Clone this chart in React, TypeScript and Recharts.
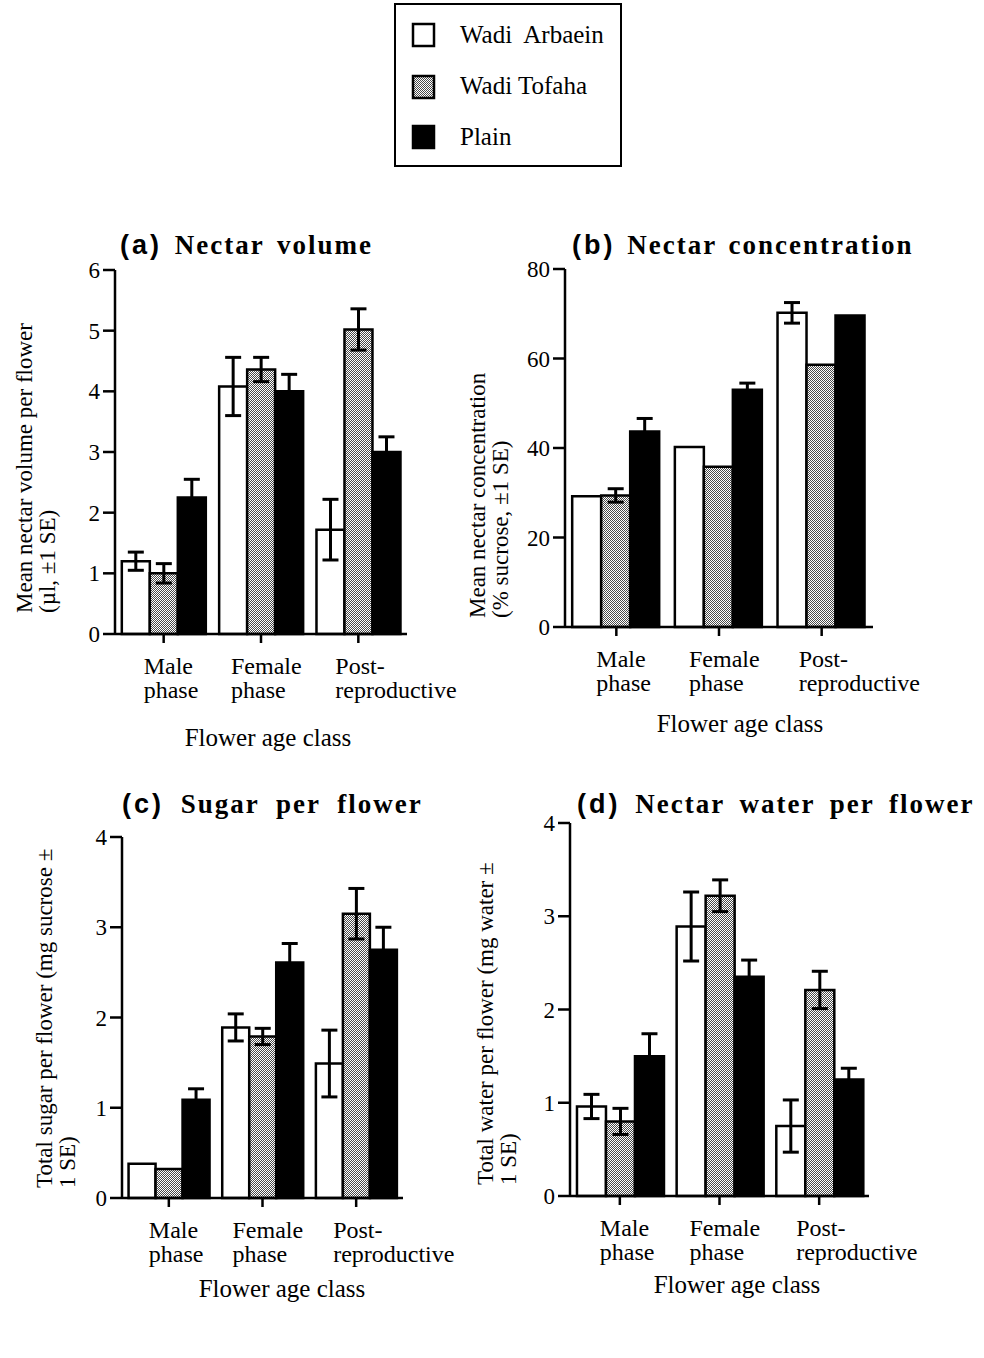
import React from "react";
import { BarChart, Bar, XAxis, YAxis, ErrorBar } from "recharts";

const FONT_SERIF = '"Liberation Serif", "Times New Roman", serif';
const FONT_SANS = '"Liberation Sans", Arial, sans-serif';

// flower age classes (x axis)
const categories = ["Male phase", "Female phase", "Post-reproductive"];
const categoryLines = [
  ["Male", "phase"],
  ["Female", "phase"],
  ["Post-", "reproductive"],
];

// (a) nectar volume, µl
const volumeArbaein = [1.2, 4.08, 1.72];
const volumeArbaeinSE = [0.15, 0.48, 0.5];
const volumeTofaha = [1.0, 4.36, 5.02];
const volumeTofahaSE = [0.16, 0.2, 0.34];
const volumePlain = [2.25, 4.0, 3.0];
const volumePlainSE = [0.3, 0.28, 0.25];

// (b) nectar concentration, % sucrose
const concArbaein = [29.2, 40.2, 70.2];
const concArbaeinSE = [0, 0, 2.3];
const concTofaha = [29.4, 35.8, 58.6];
const concTofahaSE = [1.5, 0, 0];
const concPlain = [43.7, 53.0, 69.6];
const concPlainSE = [2.9, 1.5, 0];

// (c) sugar per flower, mg sucrose
const sugarArbaein = [0.38, 1.89, 1.49];
const sugarArbaeinSE = [0, 0.15, 0.37];
const sugarTofaha = [0.32, 1.79, 3.15];
const sugarTofahaSE = [0, 0.09, 0.28];
const sugarPlain = [1.09, 2.61, 2.75];
const sugarPlainSE = [0.12, 0.21, 0.25];

// (d) nectar water per flower, mg water
const waterArbaein = [0.96, 2.89, 0.75];
const waterArbaeinSE = [0.13, 0.37, 0.28];
const waterTofaha = [0.8, 3.22, 2.21];
const waterTofahaSE = [0.14, 0.17, 0.2];
const waterPlain = [1.5, 2.35, 1.25];
const waterPlainSE = [0.24, 0.18, 0.12];

const volumeTicks = [0, 1, 2, 3, 4, 5, 6];
const concTicks = [0, 20, 40, 60, 80];
const massTicks = [0, 1, 2, 3, 4];

function buildRows(a: number[], aSE: number[], t: number[], tSE: number[], p: number[], pSE: number[]) {
  return categories.map((category, i) => ({
    category,
    arbaein: a[i],
    arbaeinSE: aSE[i],
    tofaha: t[i],
    tofahaSE: tSE[i],
    plain: p[i],
    plainSE: pSE[i],
  }));
}

const labelShift = [-20, -30, -23];

function CategoryTick(props: any) {
  const { x, y, payload } = props;
  const i = payload.index;
  const lines = categoryLines[i];
  const tx = x + labelShift[i];
  return (
    <text x={tx} y={y} fontFamily={FONT_SERIF} fontSize={24} fill="#000" textAnchor="start">
      <tspan x={tx} dy={29}>{lines[0]}</tspan>
      <tspan x={tx} dy={24}>{lines[1]}</tspan>
    </text>
  );
}

type Box = { left: number; right: number; top: number; bottom: number };

function Panel({ rows, box, yTicks, patternId }: { rows: any[]; box: Box; yTicks: number[]; patternId: string }) {
  const ML = 15, YW = 60, MT = 15, MR = 70, XH = 80, MB = 10;
  const left = box.left - ML - YW;
  const top = box.top - MT;
  const width = box.right + MR - left;
  const height = box.bottom + XH + MB - top;
  const line = { stroke: "#000", strokeWidth: 2.5 };
  return (
    <div style={{ position: "absolute", left, top, width, height }}>
      <BarChart
        width={width}
        height={height}
        data={rows}
        margin={{ top: MT, right: MR, bottom: MB, left: ML }}
        barCategoryGap="7%"
        barGap={0}
      >
        <defs>
          <pattern id={patternId} width={2} height={2} patternUnits="userSpaceOnUse">
            <rect width={2} height={2} fill="#fff" />
            <rect width={1} height={1} fill="#4a4a4a" />
            <rect x={1} y={1} width={1} height={1} fill="#4a4a4a" />
          </pattern>
        </defs>
        <XAxis
          dataKey="category"
          height={XH}
          interval={0}
          tickSize={9}
          tickMargin={2}
          axisLine={line}
          tickLine={line}
          tick={(p: any) => <CategoryTick {...p} />}
        />
        <YAxis
          type="number"
          width={YW}
          domain={[0, yTicks[yTicks.length - 1]]}
          ticks={yTicks}
          interval={0}
          tickSize={12}
          tickMargin={3}
          axisLine={line}
          tickLine={line}
          tick={{ fill: "#000", fontSize: 23, fontFamily: FONT_SERIF }}
        />
        <Bar dataKey="arbaein" fill="#fff" stroke="#000" strokeWidth={2.5} isAnimationActive={false}>
          <ErrorBar dataKey="arbaeinSE" direction="y" width={8} stroke="#000" strokeWidth={3} isAnimationActive={false} />
        </Bar>
        <Bar dataKey="tofaha" fill={`url(#${patternId})`} stroke="#000" strokeWidth={2.5} isAnimationActive={false}>
          <ErrorBar dataKey="tofahaSE" direction="y" width={8} stroke="#000" strokeWidth={3} isAnimationActive={false} />
        </Bar>
        <Bar dataKey="plain" fill="#000" stroke="#000" strokeWidth={2.5} isAnimationActive={false}>
          <ErrorBar dataKey="plainSE" direction="y" width={8} stroke="#000" strokeWidth={3} isAnimationActive={false} />
        </Bar>
      </BarChart>
    </div>
  );
}

function Title({ x, y, tag, text, gap }: { x: number; y: number; tag: string; text: string; gap: number }) {
  return (
    <text x={x} y={y} fill="#000" xmlSpace="preserve">
      <tspan fontFamily={FONT_SANS} fontWeight="bold" fontSize={27} letterSpacing={3}>{tag}</tspan>
      <tspan fontFamily={FONT_SERIF} fontWeight="bold" fontSize={27} letterSpacing={2} wordSpacing={gap}>{" " + text}</tspan>
    </text>
  );
}

function YLabel({ x, y, lines }: { x: number; y: number; lines: string[] }) {
  return (
    <text transform={`translate(${x},${y}) rotate(-90)`} fontFamily={FONT_SERIF} fontSize={23} fill="#000" textAnchor="start">
      {lines.map((l, i) => (
        <tspan key={i} x={0} y={i * 23}>{l}</tspan>
      ))}
    </text>
  );
}

function XLabel({ x, y }: { x: number; y: number }) {
  return (
    <text x={x} y={y} fontFamily={FONT_SERIF} fontSize={25} fill="#000" textAnchor="middle">
      Flower age class
    </text>
  );
}

export default function App() {
  return (
    <div style={{ position: "absolute", left: 0, top: 0, width: 984, height: 1358, background: "#fff" }}>
      <Panel
        rows={buildRows(volumeArbaein, volumeArbaeinSE, volumeTofaha, volumeTofahaSE, volumePlain, volumePlainSE)}
        box={{ left: 115, right: 407, top: 270, bottom: 634 }}
        yTicks={volumeTicks}
        patternId="dotsA"
      />
      <Panel
        rows={buildRows(concArbaein, concArbaeinSE, concTofaha, concTofahaSE, concPlain, concPlainSE)}
        box={{ left: 565, right: 873, top: 269, bottom: 627 }}
        yTicks={concTicks}
        patternId="dotsB"
      />
      <Panel
        rows={buildRows(sugarArbaein, sugarArbaeinSE, sugarTofaha, sugarTofahaSE, sugarPlain, sugarPlainSE)}
        box={{ left: 122, right: 403, top: 837, bottom: 1198 }}
        yTicks={massTicks}
        patternId="dotsC"
      />
      <Panel
        rows={buildRows(waterArbaein, waterArbaeinSE, waterTofaha, waterTofahaSE, waterPlain, waterPlainSE)}
        box={{ left: 570, right: 869, top: 823, bottom: 1196 }}
        yTicks={massTicks}
        patternId="dotsD"
      />

      <svg width={984} height={1358} style={{ position: "absolute", left: 0, top: 0, pointerEvents: "none" }}>
        <defs>
          <pattern id="dotsLegend" width={2} height={2} patternUnits="userSpaceOnUse">
            <rect width={2} height={2} fill="#fff" />
            <rect width={1} height={1} fill="#4a4a4a" />
            <rect x={1} y={1} width={1} height={1} fill="#4a4a4a" />
          </pattern>
        </defs>

        {/* legend box */}
        <rect x={395} y={4} width={226} height={162} fill="#fff" stroke="#000" strokeWidth={2} />
        <rect x={413} y={24} width={21} height={22} fill="#fff" stroke="#000" strokeWidth={2.5} />
        <rect x={413} y={76} width={21} height={22} fill="url(#dotsLegend)" stroke="#000" strokeWidth={2.5} />
        <rect x={413} y={126} width={21} height={22} fill="#000" stroke="#000" strokeWidth={2.5} />
        <g fontFamily={FONT_SERIF} fontSize={25} fill="#000">
          <text x={460} y={43} xmlSpace="preserve">{"Wadi  Arbaein"}</text>
          <text x={460} y={94}>Wadi Tofaha</text>
          <text x={460} y={145}>Plain</text>
        </g>

        <Title x={120} y={254} tag="(a)" text="Nectar volume" gap={4} />
        <Title x={572} y={254} tag="(b)" text="Nectar concentration" gap={3} />
        <Title x={122} y={813} tag="(c)" text="Sugar per flower" gap={8} />
        <Title x={577} y={813} tag="(d)" text="Nectar water per flower" gap={6} />

        <YLabel x={32} y={613} lines={["Mean nectar volume per flower", "(µl, ±1 SE)"]} />
        <YLabel x={485} y={618} lines={["Mean nectar concentration", "(% sucrose, ±1 SE)"]} />
        <YLabel x={52} y={1188} lines={["Total sugar per flower (mg sucrose ±", "1 SE)"]} />
        <YLabel x={493} y={1185} lines={["Total water per flower (mg water ±", "1 SE)"]} />

        <XLabel x={268} y={746} />
        <XLabel x={740} y={732} />
        <XLabel x={282} y={1297} />
        <XLabel x={737} y={1293} />
      </svg>
    </div>
  );
}
